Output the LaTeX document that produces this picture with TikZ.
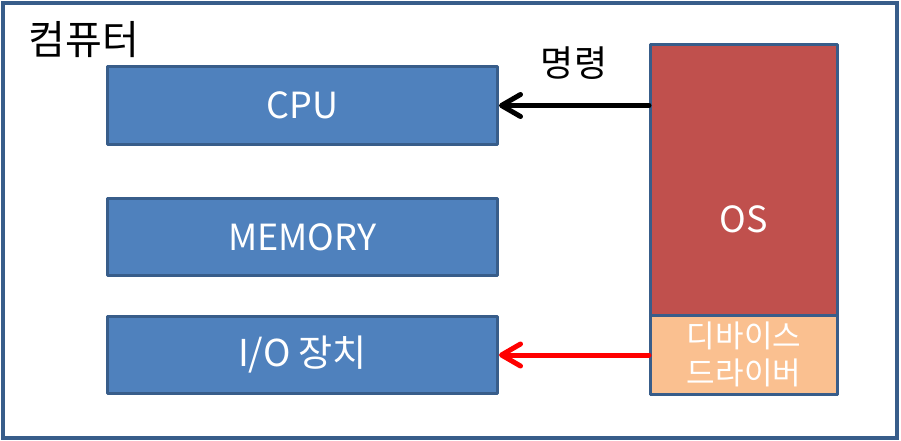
\documentclass[tikz,border=0pt]{standalone}
\usepackage{fontspec}
\setmainfont{Noto Sans CJK KR}
\usetikzlibrary{arrows.meta}
\definecolor{boxfill}{HTML}{4F81BD}
\definecolor{boxline}{HTML}{385D8A}
\definecolor{osred}{HTML}{C0504D}
\definecolor{drvorange}{HTML}{FAC090}
\begin{document}
\begin{tikzpicture}[x=1pt,y=-1pt,
  hwbox/.style={draw=boxline,fill=boxfill,line width=3pt,line join=round,minimum width=390pt,minimum height=77pt,inner sep=0pt,text=white,font=\fontsize{36}{40}\selectfont},
  osbox/.style={draw=boxline,line width=3pt,line join=round,inner sep=0pt,text=white},
  cmdarrow/.style={line width=5pt,line cap=round,-{Straight Barb[length=19pt,width=22pt,round]}}
]
\useasboundingbox (0,0) rectangle (901,441);
\draw[boxline,line width=4pt] (3,3) rectangle (897,438);
\node[anchor=center,font=\fontsize{40}{44}\selectfont] (title) at (84,40) {컴퓨터};
\node[hwbox] (cpu) at (302.5,105.5) {CPU};
\node[hwbox] (mem) at (302.5,237) {MEMORY};
\node[hwbox,font=\fontsize{37}{40}\selectfont] (io) at (302.5,355) {I/O 장치};
\node[osbox,fill=osred,minimum width=187pt,minimum height=350pt,font=\fontsize{36}{40}\selectfont] (os) at (744,219.5) {OS};
\node[osbox,fill=drvorange,minimum width=187pt,minimum height=79.5pt,align=center,font=\fontsize{31}{37}\selectfont] (drv) at (744,354.75) {디바이스\\드라이버};
\draw[cmdarrow,black] (os.west |- cpu.east) -- (cpu.east);
\node[font=\fontsize{36}{40}\selectfont] (cmd) at (574,63) {명령};
\draw[cmdarrow,red] (drv.west |- io.east) -- (io.east);
\end{tikzpicture}
\end{document}
